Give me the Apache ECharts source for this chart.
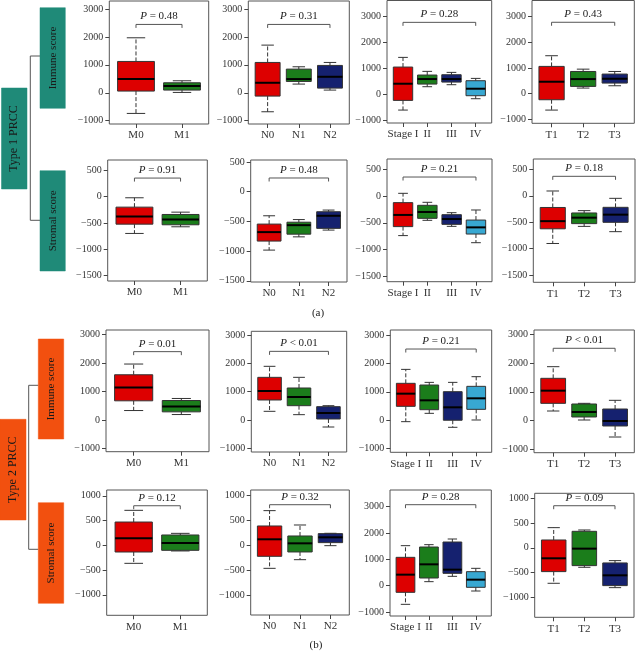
<!DOCTYPE html>
<html><head><meta charset="utf-8">
<script src="https://cdn.jsdelivr.net/npm/echarts@6/dist/echarts.min.js"></script>
<style>html,body{margin:0;padding:0;background:#fff}#c{width:636px;height:653px}</style>
</head><body><div id="c"></div>
<script>
// ---- categories ----
const mCats = ['M0', 'M1'];
const nCats = ['N0', 'N1', 'N2'];
const stageCats = ['Stage I', 'II', 'III', 'IV'];
const tCats = ['T1', 'T2', 'T3'];

// ---- box statistics: [min, Q1, median, Q3, max] per category ----
const t1ImmuneM = [[-741, 60, 490, 1123, 1971], [12, 96, 239, 358, 430]];
const t1ImmuneN = [[-681, -119, 358, 1087, 1708], [311, 406, 490, 848, 932], [96, 167, 573, 980, 1087]];
const t1ImmuneStage = [[-603, -231, 410, 1051, 1423], [295, 397, 590, 744, 885], [372, 474, 590, 756, 846], [-167, -51, 218, 526, 615]];
const t1ImmuneT = [[-637, -236, 463, 1058, 1472], [217, 281, 566, 861, 951], [307, 411, 579, 760, 861]];

const t1StromalM = [[-700, -524, -379, -202, -25], [-574, -536, -435, -341, -297]];
const t1StromalN = [[-983, -831, -680, -545, -405], [-760, -715, -563, -513, -469], [-646, -617, -405, -337, -309]];
const t1StromalStage = [[-738, -571, -354, -125, 48], [-454, -417, -299, -175, -119], [-566, -529, -430, -349, -312], [-870, -709, -585, -449, -262]];
const t1StromalT = [[-904, -626, -481, -222, 90], [-580, -528, -415, -326, -282], [-680, -503, -358, -219, -49]];

const t2ImmuneM = [[334, 674, 1141, 1585, 1960], [194, 288, 475, 685, 756]];
const t2ImmuneN = [[307, 708, 1027, 1510, 1900], [189, 507, 814, 1133, 1510], [-248, 35, 248, 472, 507]];
const t2ImmuneStage = [[-50, 490, 936, 1300, 1791], [243, 372, 701, 1240, 1334], [-249, 0, 455, 1006, 1334], [9, 384, 772, 1194, 1534]];
const t2ImmuneT = [[333, 600, 1041, 1470, 1875], [20, 125, 299, 577, 600], [-571, -188, -14, 403, 705]];

const t2StromalM = [[-364, -135, 141, 471, 707], [-114, -101, 47, 209, 242]];
const t2StromalN = [[-463, -221, 121, 389, 698], [-289, -134, 40, 188, 409], [-7, 54, 161, 235, 242]];
const t2StromalStage = [[-709, -253, 418, 1076, 1519], [152, 291, 810, 1468, 1557], [354, 468, 608, 1658, 1772], [-203, -63, 228, 532, 658]];
const t2StromalT = [[-717, -481, -212, 158, 407], [-394, -360, -17, 333, 360], [-805, -764, -556, -306, -259]];

// ---- P value labels ----
const pType1Immune = ['= 0.48', '= 0.31', '= 0.28', '= 0.43'];
const pType1Stromal = ['= 0.91', '= 0.48', '= 0.21', '= 0.18'];
const pType2Immune = ['= 0.01', '< 0.01', '= 0.21', '< 0.01'];
const pType2Stromal = ['= 0.12', '= 0.32', '= 0.28', '= 0.09'];

// bracket levels (data units)
const bracketType1Immune = [2450, 2450, 2770, 2770];
const bracketType1Stromal = [348, 231, 351, 368];
const bracketType2Immune = [2393, 2430, 2508, 2515];
const bracketType2Stromal = [800, 817, 3075, 850];

// ---- y tick labels ----
const ticksBig = [-1000, 0, 1000, 2000, 3000];
const ticksStromal1 = [-1500, -1000, -500, 0, 500];
const ticksStromal2 = [-1000, -500, 0, 500, 1000];

// ---- side labels ----
const typeLabels = ['Type 1 PRCC', 'Type 2 PRCC'];
const scoreLabels = ['Immune score', 'Stromal score'];
const panelTags = ['(a)', '(b)'];

// ================= layout (pixels) =================
const boxColors = ['#DD0000', '#1B7D1B', '#15216F', '#38A8D2'];
const colCats = [mCats, nCats, stageCats, tCats];
const rowsData = [
  [t1ImmuneM, t1ImmuneN, t1ImmuneStage, t1ImmuneT],
  [t1StromalM, t1StromalN, t1StromalStage, t1StromalT],
  [t2ImmuneM, t2ImmuneN, t2ImmuneStage, t2ImmuneT],
  [t2StromalM, t2StromalN, t2StromalStage, t2StromalT]
];
const rowsP = [pType1Immune, pType1Stromal, pType2Immune, pType2Stromal];
const rowsBracket = [bracketType1Immune, bracketType1Stromal, bracketType2Immune, bracketType2Stromal];
const rowsTicks = [
  [ticksBig, ticksBig, ticksBig, ticksBig],
  [ticksStromal1, ticksStromal1, ticksStromal1, ticksStromal1],
  [ticksBig, ticksBig, ticksBig, ticksBig],
  [ticksStromal2, ticksStromal2, ticksBig, ticksStromal2]
];
const rowsYRange = [
  [[-1120, 3290], [-1120, 3290], [-1100, 3610], [-1150, 3615]],
  [[-1600, 690], [-1520, 534], [-1595, 686], [-1639, 696]],
  [[-1105, 3150], [-1133, 3140], [-1129, 3178], [-1117, 3151]],
  [[-1414, 1118], [-1402, 1113], [-1152, 3633], [-1404, 1101]]
];
// [left, top, right, bottom]
const rowsRect = [
  [[109.3, 1, 208.7, 124], [248.3, 1, 349.3, 124], [387, 0.5, 491.7, 123], [532, 0.5, 634.3, 123.3]],
  [[107.7, 160, 207.3, 281], [250.7, 160, 347, 282], [387, 159, 492, 281.7], [533.3, 159, 635, 282.3]],
  [[106, 330, 209, 451.7], [251.3, 331.3, 346.7, 452], [390.3, 330, 491.7, 452.3], [534, 330, 634.3, 452.7]],
  [[106.7, 490, 207.3, 615.3], [250.7, 490, 349.3, 615], [390, 490, 491.3, 616], [534.7, 493.3, 634, 617.3]]
];

const FONT = '"Liberation Serif", "DejaVu Serif", serif';
const TXT = '#333';
const fmtNum = v => (v < 0 ? '\u2212' + Math.abs(v) : String(v));

const grids = [], xAxes = [], yAxes = [], series = [];
let idx = 0;
for (let r = 0; r < 4; r++) {
  for (let c = 0; c < 4; c++) {
    const cats = colCats[c];
    const n = cats.length;
    const rc = rowsRect[r][c];
    grids.push({
      left: rc[0], top: rc[1], width: rc[2] - rc[0], height: rc[3] - rc[1],
      show: true, borderColor: '#555', borderWidth: 1, backgroundColor: 'transparent',
      containLabel: false, outerBoundsMode: 'none'
    });
    const catIdx = cats.map((_, i) => i + 1);
    xAxes.push({
      gridIndex: idx, type: 'value', min: 0.5 - 0.04 * n, max: n + 0.5 + 0.04 * n,
      axisLine: { show: false, onZero: false }, splitLine: { show: false },
      axisTick: { show: true, inside: false, length: 4, customValues: catIdx, lineStyle: { color: '#444' } },
      axisLabel: {
        show: true, customValues: catIdx, margin: 6,
        formatter: v => cats[Math.round(v) - 1] || '',
        fontFamily: FONT, fontSize: 11, color: TXT
      }
    });
    const yr = rowsYRange[r][c];
    yAxes.push({
      gridIndex: idx, type: 'value', min: yr[0], max: yr[1],
      axisLine: { show: false, onZero: false }, splitLine: { show: false },
      axisTick: { show: true, inside: false, length: 4, customValues: rowsTicks[r][c], lineStyle: { color: '#444' } },
      axisLabel: {
        show: true, customValues: rowsTicks[r][c], margin: 6,
        formatter: v => fmtNum(v), fontFamily: FONT, fontSize: 10, color: TXT
      }
    });
    const boxes = rowsData[r][c];
    series.push({
      type: 'custom', xAxisIndex: idx, yAxisIndex: idx,
      data: boxes.map((b, i) => [i + 1, b[0], b[1], b[2], b[3], b[4]]),
      encode: { x: 0, y: [1, 2, 3, 4, 5] },
      silent: true, animation: false,
      renderItem: (params, api) => {
        const x = api.value(0);
        const mn = api.value(1), q1 = api.value(2), md = api.value(3), q3 = api.value(4), mx = api.value(5);
        const tl = api.coord([x - 0.4, q3]);
        const br = api.coord([x + 0.4, q1]);
        const cMax = api.coord([x, mx]), cMin = api.coord([x, mn]);
        const cQ3 = api.coord([x, q3]), cQ1 = api.coord([x, q1]);
        const mL = api.coord([x - 0.4, md]), mR = api.coord([x + 0.4, md]);
        const capL = api.coord([x - 0.2, mx]), capR = api.coord([x + 0.2, mx]);
        const capL2 = api.coord([x - 0.2, mn]), capR2 = api.coord([x + 0.2, mn]);
        const stroke = '#333';
        return {
          type: 'group', children: [
            { type: 'line', shape: { x1: cQ3[0], y1: cQ3[1], x2: cMax[0], y2: cMax[1] }, style: { stroke, lineWidth: 1, lineDash: [4, 2] } },
            { type: 'line', shape: { x1: cQ1[0], y1: cQ1[1], x2: cMin[0], y2: cMin[1] }, style: { stroke, lineWidth: 1, lineDash: [4, 2] } },
            { type: 'line', shape: { x1: capL[0], y1: capL[1], x2: capR[0], y2: capR[1] }, style: { stroke, lineWidth: 1 } },
            { type: 'line', shape: { x1: capL2[0], y1: capL2[1], x2: capR2[0], y2: capR2[1] }, style: { stroke, lineWidth: 1 } },
            { type: 'rect', shape: { x: tl[0], y: tl[1], width: br[0] - tl[0], height: br[1] - tl[1] }, style: { fill: boxColors[params.dataIndex], stroke: '#333', lineWidth: 1 } },
            { type: 'line', shape: { x1: mL[0], y1: mL[1], x2: mR[0], y2: mR[1] }, style: { stroke: '#000', lineWidth: 2 } }
          ]
        };
      }
    });
    const pText = rowsP[r][c];
    series.push({
      type: 'custom', xAxisIndex: idx, yAxisIndex: idx,
      data: [[1, n, rowsBracket[r][c]]],
      encode: { x: [0, 1], y: 2 },
      silent: true, animation: false,
      renderItem: (params, api) => {
        const a = api.coord([api.value(0), api.value(2)]);
        const b = api.coord([api.value(1), api.value(2)]);
        return {
          type: 'group', children: [
            { type: 'polyline', shape: { points: [[a[0], a[1] + 3.5], [a[0], a[1]], [b[0], b[1]], [b[0], b[1] + 3.5]] }, style: { stroke: '#555', lineWidth: 1, fill: null } },
            { type: 'text', x: (a[0] + b[0]) / 2, y: a[1] - 2.5,
              style: { text: '{i|P} ' + pText, align: 'center', verticalAlign: 'bottom',
                fontFamily: FONT, fontSize: 11, fill: '#222',
                rich: { i: { fontStyle: 'italic', fontFamily: FONT, fontSize: 11, fill: '#222' } } } }
          ]
        };
      }
    });
    idx++;
  }
}

// ---- side label graphics ----
const TEAL = '#1F8A78', ORANGE = '#F2500F';
function vText(cx, cy, text, size) {
  return { type: 'text', x: cx, y: cy, rotation: Math.PI / 2, silent: true,
    style: { text, align: 'center', verticalAlign: 'middle', fontFamily: FONT, fontSize: size, fill: '#1a1a1a' } };
}
function sideGroup(color, typeRect, immRect, strRect, lineX, yImm, yStr, typeText) {
  const els = [];
  els.push({ type: 'polyline', silent: true, shape: { points: [[immRect[0], yImm], [lineX, yImm], [lineX, yStr], [strRect[0], yStr]] }, style: { stroke: '#555', lineWidth: 1, fill: null } });
  [typeRect, immRect, strRect].forEach(rc => els.push({ type: 'rect', silent: true, shape: { x: rc[0], y: rc[1], width: rc[2], height: rc[3] }, style: { fill: color, stroke: color, lineWidth: 0.5 } }));
  els.push(vText(typeRect[0] + typeRect[2] / 2, typeRect[1] + typeRect[3] / 2, typeText, 12));
  els.push(vText(immRect[0] + immRect[2] / 2, immRect[1] + immRect[3] / 2, scoreLabels[0], 11));
  els.push(vText(strRect[0] + strRect[2] / 2, strRect[1] + strRect[3] / 2, scoreLabels[1], 11));
  return els;
}
const graphics = [].concat(
  sideGroup(TEAL, [1.5, 88, 25.5, 101], [40, 7.7, 25.3, 100.6], [40, 170.7, 25.3, 100.3], 30.3, 56, 220.3, typeLabels[0]),
  sideGroup(ORANGE, [0, 419.3, 26, 100.7], [38.3, 339, 25.4, 100], [38.3, 502.7, 25.4, 100.6], 28.7, 385.3, 549.3, typeLabels[1]),
  [
    { type: 'text', x: 318, y: 313, silent: true, style: { text: panelTags[0], align: 'center', verticalAlign: 'middle', fontFamily: FONT, fontSize: 11, fill: '#222' } },
    { type: 'text', x: 316, y: 645, silent: true, style: { text: panelTags[1], align: 'center', verticalAlign: 'middle', fontFamily: FONT, fontSize: 11, fill: '#222' } }
  ]
);

const chart = echarts.init(document.getElementById('c'), null, { renderer: 'canvas' });
chart.setOption({
  animation: false,
  backgroundColor: '#fff',
  grid: grids, xAxis: xAxes, yAxis: yAxes, series,
  graphic: graphics
});
</script></body></html>
